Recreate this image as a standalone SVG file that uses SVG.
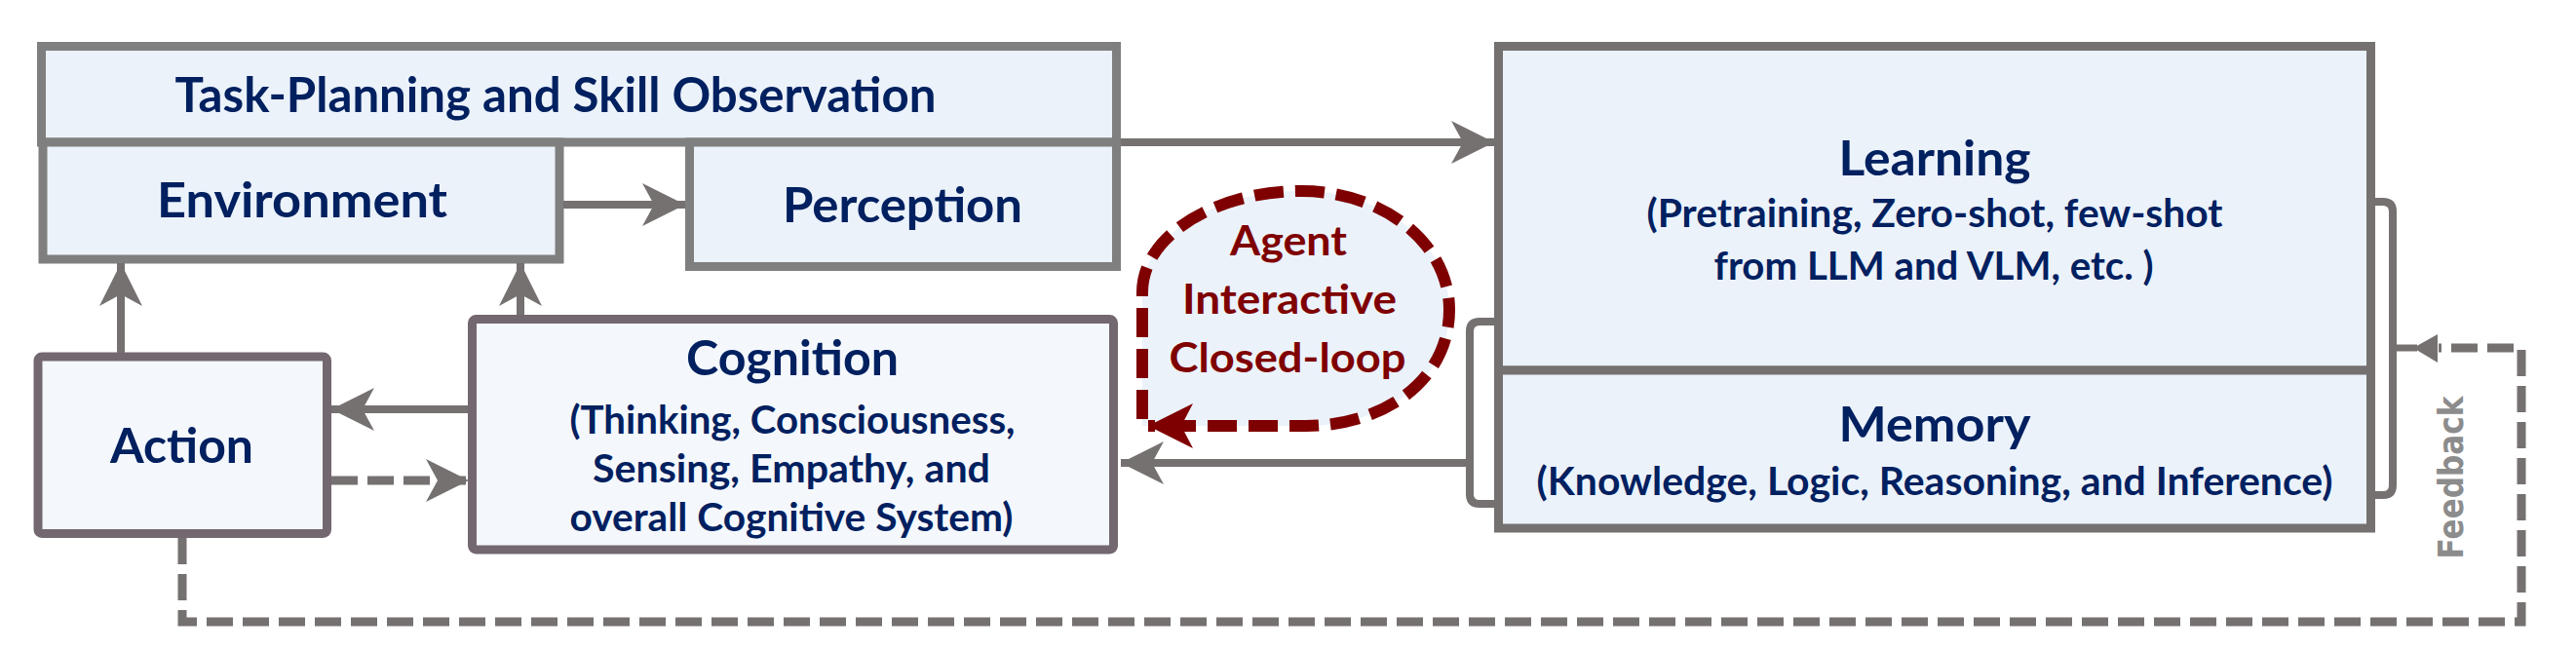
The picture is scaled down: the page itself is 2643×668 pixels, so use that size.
<svg xmlns="http://www.w3.org/2000/svg" width="2643" height="668" viewBox="0 0 2643 668">
<defs>
<style>
.box{fill:#EBF2FA;stroke:#7F7F7F;stroke-width:9}
.boxL{fill:#EBF2FA;stroke:#767171;stroke-width:9}
.boxP{fill:#F4F8FC;stroke:#736770;stroke-width:9}
.t{font-family:Lato,"Open Sans","Liberation Sans",sans-serif;font-weight:700;fill:#002060;text-anchor:middle}
.ti{font-size:49px}
.sub{font-size:40px}
.ag{font-family:Lato,"Open Sans","Liberation Sans",sans-serif;font-weight:700;fill:#7F0000;text-anchor:middle;font-size:42px}
.fb{font-family:"DejaVu Sans",Verdana,sans-serif;font-weight:700;fill:#8C8C8C;text-anchor:middle;font-size:35px}
.c{fill:none;stroke:#767171;stroke-width:8}
.d{fill:none;stroke:#767171;stroke-width:9;stroke-dasharray:27 10}
</style>
<marker id="ah" markerUnits="userSpaceOnUse" viewBox="-46 -24 48 48" refX="0" refY="0" markerWidth="48" markerHeight="48" orient="auto">
<path d="M0,0 L-44,-22 L-32,0 L-44,22 Z" fill="#767171"/>
</marker>
<marker id="ahr" markerUnits="userSpaceOnUse" viewBox="-48 -24 50 48" refX="0" refY="0" markerWidth="50" markerHeight="48" orient="auto">
<path d="M0,0 L-46,-23 L-34,0 L-46,23 Z" fill="#7F0000"/>
</marker>
</defs>

<g id="agent-loop">
<path d="M1172,437 L1172,300 C1172,240 1250,196 1335,196 C1420,196 1487,250 1487,318 C1487,390 1420,437 1340,437 Z" fill="#EBF2FA" stroke="none"/>
<path d="M1172,430 L1172,300 C1172,240 1250,196 1335,196 C1420,196 1487,250 1487,318 C1487,390 1420,437 1340,437 L1178,437" fill="none" stroke="#7F0000" stroke-width="12" stroke-dasharray="30 12" marker-end="url(#ahr)"/>
<text class="ag" x="1322" y="262" textLength="120" lengthAdjust="spacingAndGlyphs">Agent</text>
<text class="ag" x="1323" y="322" textLength="220" lengthAdjust="spacingAndGlyphs">Interactive</text>
<text class="ag" x="1321" y="382" textLength="243" lengthAdjust="spacingAndGlyphs">Closed-loop</text>
</g>

<g id="task-planning">
<rect class="box" x="42.5" y="47.5" width="1103" height="98.5"/>
<text class="t ti" x="570" y="115" textLength="781" lengthAdjust="spacingAndGlyphs">Task-Planning and Skill Observation</text>
</g>

<g id="environment">
<rect class="box" x="44" y="146" width="530" height="120"/>
<text class="t ti" x="310" y="223" textLength="298" lengthAdjust="spacingAndGlyphs">Environment</text>
</g>

<g id="perception">
<rect class="box" x="707.5" y="146" width="438" height="127.5"/>
<text class="t ti" x="926" y="228" textLength="246" lengthAdjust="spacingAndGlyphs">Perception</text>
</g>

<g id="action">
<rect class="boxP" x="39" y="366" width="296.5" height="181.5" rx="4"/>
<text class="t ti" x="186.5" y="475" textLength="147" lengthAdjust="spacingAndGlyphs">Action</text>
</g>

<g id="cognition">
<rect class="boxP" x="484.5" y="327.5" width="658" height="236.5" rx="4"/>
<text class="t ti" x="813" y="385" textLength="218" lengthAdjust="spacingAndGlyphs">Cognition</text>
<text class="t sub" x="813" y="445" textLength="457" lengthAdjust="spacingAndGlyphs">(Thinking, Consciousness,</text>
<text class="t sub" x="812" y="495" textLength="408" lengthAdjust="spacingAndGlyphs">Sensing, Empathy, and</text>
<text class="t sub" x="812" y="545" textLength="455" lengthAdjust="spacingAndGlyphs">overall Cognitive System)</text>
</g>

<g id="learning">
<rect class="boxL" x="1537.5" y="47.5" width="895" height="332.5"/>
<text class="t ti" x="1985" y="180" textLength="197" lengthAdjust="spacingAndGlyphs">Learning</text>
<text class="t sub" x="1985" y="233" textLength="591" lengthAdjust="spacingAndGlyphs">(Pretraining, Zero-shot, few-shot</text>
<text class="t sub" x="1984" y="287" textLength="451" lengthAdjust="spacingAndGlyphs">from LLM and VLM, etc. )</text>
</g>

<g id="memory">
<rect class="boxL" x="1537.5" y="380" width="895" height="162"/>
<text class="t ti" x="1985" y="453" textLength="197" lengthAdjust="spacingAndGlyphs">Memory</text>
<text class="t sub" x="1985" y="508" textLength="817" lengthAdjust="spacingAndGlyphs">(Knowledge, Logic, Reasoning, and Inference)</text>
</g>

<g id="connectors">
<text class="fb" transform="translate(2527,490) rotate(-90)" textLength="167" lengthAdjust="spacingAndGlyphs">Feedback</text>
<path class="c" d="M1150,146 L1533,146" marker-end="url(#ah)"/>
<path class="c" d="M578,210 L703,210" marker-end="url(#ah)"/>
<path class="c" d="M124,362 L124,270" marker-end="url(#ah)"/>
<path class="c" d="M534,323 L534,270" marker-end="url(#ah)"/>
<path class="c" d="M480,420 L340,420" marker-end="url(#ah)"/>
<path class="d" d="M340,493 L481,493" marker-end="url(#ah)"/>
<path class="c" d="M1533,330 L1518,330 Q1508,330 1508,340 L1508,507 Q1508,517 1518,517 L1533,517"/>
<path class="c" d="M1504,475 L1150,475" marker-end="url(#ah)"/>
<path class="c" d="M2437,207 L2445,207 Q2455,207 2455,217 L2455,498 Q2455,508 2445,508 L2437,508"/>
<path class="d" d="M187,552 L187,638 L2587,638 L2587,357 L2502,357"/>
<path d="M2458,357 L2480,357" stroke="#767171" stroke-width="7"/>
<polygon points="2476,357 2501,343 2501,372" fill="#767171"/>
</g>
</svg>
